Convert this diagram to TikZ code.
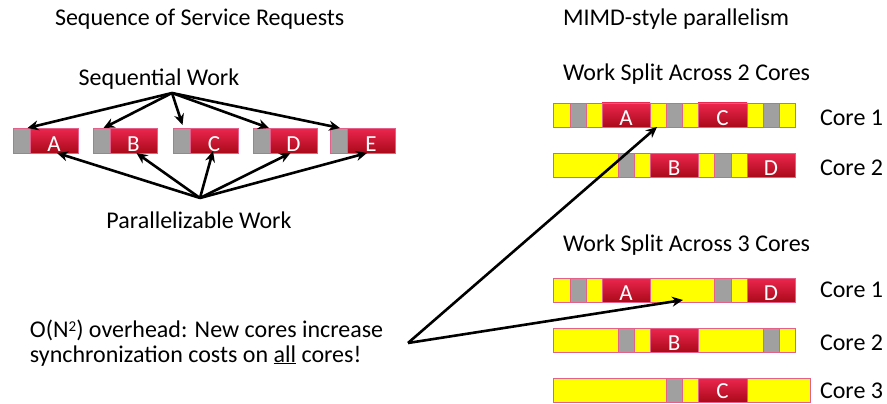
\documentclass[tikz,border=0pt]{standalone}
\usepackage{fontspec}
\setmainfont{Carlito}
\usetikzlibrary{arrows.meta}
\definecolor{redtop}{RGB}{236,38,78}
\definecolor{redbot}{RGB}{170,10,26}
\definecolor{segborder}{RGB}{228,96,136}
\definecolor{ylw}{RGB}{255,255,0}
\definecolor{gry}{RGB}{160,160,160}
\newcommand\Yseg[3]{\draw[yseg] (#1,#3) rectangle (#2,#3+24);}
\newcommand\Gseg[3]{\draw[gseg] (#1,#3) rectangle (#2,#3+24);}
\begin{document}
\begin{tikzpicture}[x=1pt,y=-1pt,
  txt/.style={font=\fontsize{24}{29}\selectfont, inner sep=0pt, outer sep=0pt},
  yseg/.style={fill=ylw, draw=segborder, line width=0.6pt},
  gseg/.style={fill=gry, draw=segborder, line width=0.6pt},
  redbox/.style={top color=redtop, bottom color=redbot, draw=segborder, line width=0.6pt, minimum height=24pt, inner sep=0pt, outer sep=0pt, anchor=north west},
  graybox/.style={fill=gry, draw=segborder, line width=0.6pt, minimum height=25pt, minimum width=17pt, inner sep=0pt, outer sep=0pt, anchor=north west},
  lett/.style={text=white, font=\fontsize{23}{27}\selectfont, inner sep=0pt},
  arr/.style={line width=2.6pt, -{Stealth[length=11pt,width=10pt]}},
]
\useasboundingbox (0,0) rectangle (887,404);

% ---------- titles ----------
\node[txt, anchor=base west] (t1) at (55,26) {Sequence of Service Requests};
\node[txt, anchor=base west] (t2) at (563,26) {MIMD-style parallelism};
\node[txt, anchor=base west] (w2) at (563,81) {Work Split Across 2 Cores};
\node[txt, anchor=base west] (w3) at (563,251) {Work Split Across 3 Cores};

% ---------- left: sequence ----------
\node[txt, anchor=base] (seqtxt) at (159,86) {Sequential Work};
\node[txt, anchor=base] (partxt) at (199,228) {Parallelizable Work};

\node[graybox] (gA) at (13,128) {};
\node[graybox] (gB) at (93,128) {};
\node[graybox] (gC) at (173,128) {};
\node[graybox] (gD) at (253,128) {};
\node[graybox] (gE) at (330,128) {};
\node[redbox, minimum width=48pt, minimum height=25pt] (lA) at (30,128) {};
\node[redbox, minimum width=47pt, minimum height=25pt] (lB) at (110,128) {};
\node[redbox, minimum width=48pt, minimum height=25pt] (lC) at (190,128) {};
\node[redbox, minimum width=47pt, minimum height=25pt] (lD) at (270,128) {};
\node[redbox, minimum width=48pt, minimum height=25pt] (lE) at (347,128) {};
\node[lett] (xA) at ([yshift=-3.5pt]lA.center) {A};
\node[lett] (xB) at ([yshift=-3.5pt]lB.center) {B};
\node[lett] (xC) at ([yshift=-3.5pt]lC.center) {C};
\node[lett] (xD) at ([yshift=-3.5pt]lD.center) {D};
\node[lett] (xE) at ([yshift=-3.5pt]lE.center) {E};

\coordinate (seqhub) at (172,93);
\coordinate (parhub) at (200,198);
\draw[arr] (seqhub) -- ([xshift=6pt]gA.north);
\draw[arr] (seqhub) -- ([xshift=2pt]gB.north);
\draw[arr] (seqhub) -- ([xshift=1pt,yshift=3pt]gC.north);
\draw[arr] (seqhub) -- ([xshift=-1pt]gD.north east);
\draw[arr] (seqhub) -- ([xshift=-7pt]gE.north east);
\draw[arr] (parhub) -- ([xshift=3pt]lA.south);
\draw[arr] (parhub) -- ([xshift=3pt]lB.south);
\draw[arr] (parhub) -- ([xshift=-1pt,yshift=2pt]lC.south);
\draw[arr] (parhub) -- ([xshift=-3pt]lD.south);
\draw[arr] (parhub) -- ([xshift=-4pt]lE.south);

% ---------- right: 2 cores, core 1 ----------
\Yseg{553}{570}{103}\Gseg{570}{586}{103}\Yseg{586}{602}{103}
\Yseg{650}{666}{103}\Gseg{666}{682}{103}\Yseg{682}{698}{103}
\Yseg{747}{763}{103}\Gseg{763}{779}{103}\Yseg{779}{795}{103}
\node[redbox, minimum width=48pt] (r1A) at (602,103) {};
\node[redbox, minimum width=49pt] (r1C) at (698,103) {};
\node[lett] at ([yshift=-3pt]r1A.center) {A};
\node[lett] at ([yshift=-3pt]r1C.center) {C};
\node[txt, anchor=base west] (c21) at (820,125) {Core 1};

% ---------- 2 cores, core 2 ----------
\Yseg{553}{618}{153}\Gseg{618}{634}{153}\Yseg{634}{650}{153}
\Yseg{698}{714}{153}\Gseg{714}{731}{153}\Yseg{731}{747}{153}
\node[redbox, minimum width=48pt] (r2B) at (650,153) {};
\node[redbox, minimum width=48pt] (r2D) at (747,153) {};
\node[lett] at ([yshift=-3pt]r2B.center) {B};
\node[lett] at ([yshift=-3pt]r2D.center) {D};
\node[txt, anchor=base west] (c22) at (820,175) {Core 2};

% ---------- 3 cores, core 1 ----------
\Yseg{553}{570}{278}\Gseg{570}{586}{278}\Yseg{586}{602}{278}
\Yseg{650}{714}{278}\Gseg{714}{731}{278}\Yseg{731}{747}{278}
\node[redbox, minimum width=48pt] (s1A) at (602,278) {};
\node[redbox, minimum width=48pt] (s1D) at (747,278) {};
\node[lett] at ([yshift=-3pt]s1A.center) {A};
\node[lett] at ([yshift=-3pt]s1D.center) {D};
\node[txt, anchor=base west] (c31) at (820,297) {Core 1};

% ---------- 3 cores, core 2 ----------
\Yseg{553}{618}{328}\Gseg{618}{634}{328}\Yseg{634}{650}{328}
\Yseg{698}{763}{328}\Gseg{763}{779}{328}\Yseg{779}{795}{328}
\node[redbox, minimum width=48pt] (s2B) at (650,328) {};
\node[lett] at ([yshift=-3pt]s2B.center) {B};
\node[txt, anchor=base west] (c32) at (820,350) {Core 2};

% ---------- 3 cores, core 3 ----------
\Yseg{553}{666}{378}\Gseg{666}{682}{378}\Yseg{682}{698}{378}
\Yseg{747}{810}{378}
\node[redbox, minimum width=49pt] (s3C) at (698,378) {};
\node[lett] at ([yshift=-1.5pt]s3C.center) {C};
\node[txt, anchor=base west] (c33) at (820,398) {Core 3};

% ---------- overhead note ----------
\node[txt, anchor=base west] (oh1) at (30,337) {O(N\raisebox{6pt}{\fontsize{15}{15}\selectfont 2}) overhead: New cores increase};
\node[txt, anchor=base west] (oh2) at (30,362) {synchronization costs on \underline{all} cores!};
\coordinate (ohub) at (408,343);
\coordinate (tgt2) at (657,127);
\coordinate (tgt3) at (683,300);
\draw[arr] (ohub) -- (tgt2);
\draw[arr] (ohub) -- (tgt3);
\end{tikzpicture}
\end{document}
